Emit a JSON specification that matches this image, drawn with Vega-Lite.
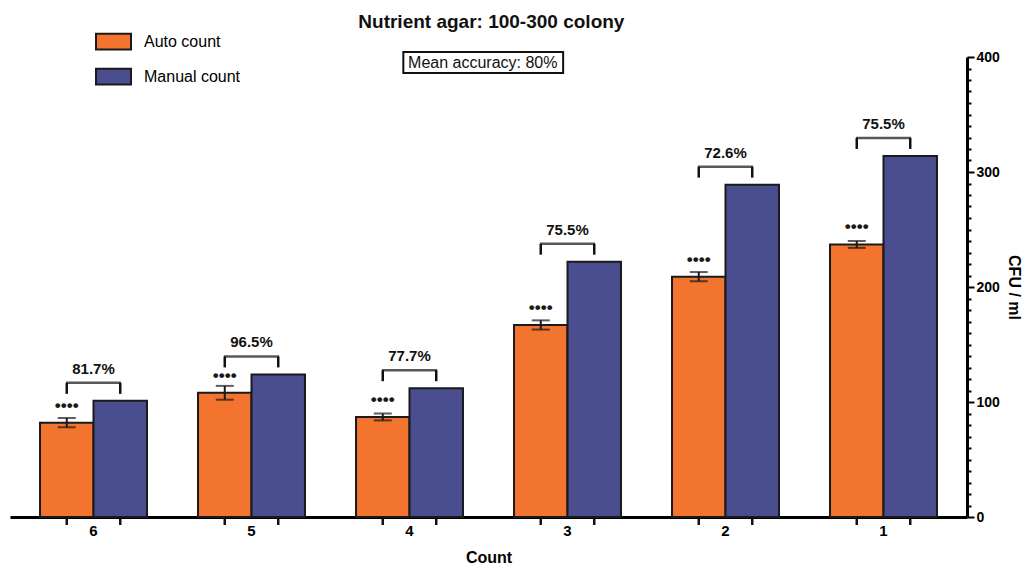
{
  "$schema": "https://vega.github.io/schema/vega-lite/v6.json",
  "width": 957,
  "height": 460,
  "autosize": {"type": "none"},
  "padding": {"left": 10, "top": 57, "right": 63, "bottom": 52},
  "background": "white",
  "config": {"view": {"stroke": null}, "font": "Liberation Sans"},
  "datasets": {
    "counts": [
      {"Count": "6", "Auto count": 82, "Manual count": 101, "SD": 4, "Accuracy": "81.7%"},
      {"Count": "5", "Auto count": 108, "Manual count": 124, "SD": 6, "Accuracy": "96.5%"},
      {"Count": "4", "Auto count": 87, "Manual count": 112, "SD": 3, "Accuracy": "77.7%"},
      {"Count": "3", "Auto count": 167, "Manual count": 222, "SD": 4, "Accuracy": "75.5%"},
      {"Count": "2", "Auto count": 209, "Manual count": 289, "SD": 4, "Accuracy": "72.6%"},
      {"Count": "1", "Auto count": 237, "Manual count": 314, "SD": 3, "Accuracy": "75.5%"}
    ],
    "note": [{"label": "Mean accuracy: 80%", "heading": "Nutrient agar: 100-300 colony"}]
  },
  "layer": [
    {
      "data": {"name": "counts"},
      "transform": [{"fold": ["Auto count", "Manual count"], "as": ["Series", "CFU"]}],
      "encoding": {
        "x": {
          "field": "Count", "type": "nominal", "sort": ["6", "5", "4", "3", "2", "1"],
          "scale": {"paddingInner": 0.323, "paddingOuter": 0.19},
          "axis": {"title": "Count", "titleFontSize": 16, "titleFontWeight": "bold", "titleColor": "black", "titlePadding": 11, "labelFontSize": 15, "labelFontWeight": "bold", "labelColor": "black", "labelAngle": 0, "ticks": false, "labelPadding": 6, "domainColor": "black", "domainWidth": 3}
        }
      },
      "resolve": {"axis": {"y": "independent"}},
      "layer": [
        {
          "mark": {"type": "bar", "stroke": "#1a1a1a", "strokeWidth": 2},
          "encoding": {
            "xOffset": {"field": "Series", "scale": {"domain": ["Auto count", "Manual count"], "paddingInner": 0, "paddingOuter": 0}},
            "y": {
              "field": "CFU", "type": "quantitative", "scale": {"domain": [0, 400]},
              "axis": {
                "orient": "right", "title": "CFU / ml",
                "values": [0, 10, 20, 30, 40, 50, 60, 70, 80, 90, 100, 110, 120, 130, 140, 150, 160, 170, 180, 190, 200, 210, 220, 230, 240, 250, 260, 270, 280, 290, 300, 310, 320, 330, 340, 350, 360, 370, 380, 390, 400],
                "labelExpr": "datum.value % 100 === 0 ? datum.label : ''",
                "labelOverlap": false, "labelBound": false,
                "tickSize": {"condition": {"test": "datum.value % 100 === 0", "value": 7}, "value": 4},
                "tickWidth": 2, "tickColor": "black", "domainColor": "black", "domainWidth": 3,
                "labelFontSize": 14, "labelFontWeight": "bold", "labelColor": "black", "labelPadding": 2,
                "titleFontSize": 16, "titleFontWeight": "bold", "titleColor": "black", "titlePadding": 6, "grid": false
              }
            },
            "color": {
              "field": "Series", "type": "nominal",
              "scale": {"domain": ["Auto count", "Manual count"], "range": ["#F2742F", "#4A4D8E"]},
              "legend": {"title": null, "orient": "none", "legendX": 85, "legendY": -34, "padding": 0, "symbolType": "M-1,-0.45H1V0.45H-1Z", "symbolSize": 1225, "symbolStrokeColor": "#1a1a1a", "symbolStrokeWidth": 2, "symbolOpacity": 1, "labelFontSize": 16, "labelFont": "Liberation Sans", "labelColor": "black", "labelOffset": 12, "rowPadding": 4}
            }
          }
        },
        {
          "transform": [{"filter": {"field": "Series", "equal": "Auto count"}}],
          "mark": {"type": "errorbar", "color": "#1a1a1a", "ticks": {"size": 18, "thickness": 2}, "rule": {"strokeWidth": 2}},
          "encoding": {
            "xOffset": {"field": "Series"},
            "y": {"field": "CFU", "type": "quantitative", "axis": null},
            "yError": {"field": "SD"}
          }
        },
        {
          "transform": [{"filter": {"field": "Series", "equal": "Auto count"}}],
          "mark": {"type": "text", "dy": -17, "fontSize": 17, "fontWeight": "bold", "color": "#1a1a1a"},
          "encoding": {
            "xOffset": {"field": "Series"},
            "y": {"field": "CFU", "type": "quantitative", "axis": null},
            "text": {"value": "••••"}
          }
        },
        {
          "mark": {"type": "rule", "color": "#111", "strokeWidth": 2.5, "yOffset": -18, "y2Offset": -7},
          "encoding": {
            "xOffset": {"field": "Series"},
            "y": {"field": "Manual count", "type": "quantitative", "axis": null},
            "y2": {"field": "Manual count"}
          }
        },
        {
          "transform": [{"filter": {"field": "Series", "equal": "Auto count"}}],
          "mark": {"type": "tick", "orient": "horizontal", "size": 55, "thickness": 2.5, "yOffset": -18, "color": "#111"},
          "encoding": {
            "y": {"field": "Manual count", "type": "quantitative", "axis": null}
          }
        },
        {
          "transform": [{"filter": {"field": "Series", "equal": "Auto count"}}],
          "mark": {"type": "text", "dy": -32, "fontSize": 15, "fontWeight": "bold", "color": "#111"},
          "encoding": {
            "y": {"field": "Manual count", "type": "quantitative", "axis": null},
            "text": {"field": "Accuracy"}
          }
        },
        {
          "mark": {"type": "rule", "color": "#111", "strokeWidth": 2.5, "y2Offset": 8},
          "encoding": {
            "xOffset": {"field": "Series"},
            "y": {"datum": 0, "axis": null},
            "y2": {"datum": 0}
          }
        }
      ]
    },
    {
      "data": {"name": "note"},
      "layer": [
        {
          "mark": {"type": "rect", "fill": "white", "stroke": "#111", "strokeWidth": 2},
          "encoding": {
            "x": {"datum": 0.411, "type": "quantitative", "scale": {"domain": [0, 1]}, "axis": null},
            "x2": {"datum": 0.578},
            "y": {"datum": 1.011, "type": "quantitative", "scale": {"domain": [0, 1]}, "axis": null},
            "y2": {"datum": 0.965}
          }
        },
        {
          "mark": {"type": "text", "fontSize": 16, "color": "#111"},
          "encoding": {
            "x": {"datum": 0.494, "type": "quantitative"},
            "y": {"datum": 0.988, "type": "quantitative"},
            "text": {"field": "label"}
          }
        },
        {
          "mark": {"type": "text", "fontSize": 19, "fontWeight": "bold", "color": "#111", "baseline": "alphabetic"},
          "encoding": {
            "x": {"datum": 0.503, "type": "quantitative"},
            "y": {"datum": 1.063, "type": "quantitative"},
            "text": {"field": "heading"}
          }
        }
      ]
    }
  ],
  "resolve": {"scale": {"x": "independent", "y": "independent"}}
}
